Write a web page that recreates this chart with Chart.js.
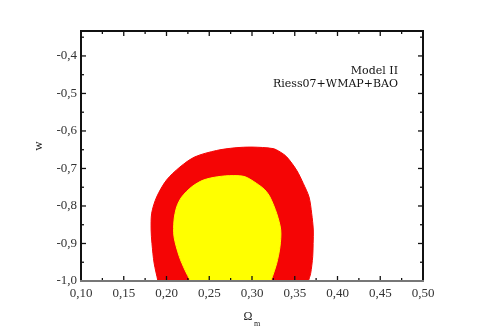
<!DOCTYPE html>
<html>
<head>
<meta charset="utf-8">
<script src="https://cdn.jsdelivr.net/npm/chart.js@4.4.0/dist/chart.umd.min.js"></script>
<style>
  html, body { margin: 0; padding: 0; background: #fff; }
</style>
</head>
<body>
<canvas id="contourChart" width="491" height="333"></canvas>
<script>
(function(){
    "use strict";

    // tick labels
    var xTicks = [0.10, 0.15, 0.20, 0.25, 0.30, 0.35, 0.40, 0.45, 0.50];
    var yTicks = [-1.0, -0.9, -0.8, -0.7, -0.6, -0.5, -0.4];

    // 2 sigma contour (outer, red)
    var outerOm = [0.190, 0.1855, 0.183, 0.182, 0.1827, 0.1885, 0.200, 0.2158, 0.2333, 0.2587, 0.280, 0.300, 0.3246, 0.333, 0.3406, 0.3523, 0.360, 0.3667, 0.3698, 0.3717, 0.3715, 0.371, 0.3686, 0.3659];
    var outerW  = [-1.0, -0.952, -0.90, -0.864, -0.819, -0.776, -0.731, -0.696, -0.669, -0.652, -0.645, -0.643, -0.647, -0.656, -0.669, -0.705, -0.740, -0.776, -0.820, -0.864, -0.90, -0.935, -0.980, -1.0];

    // 1 sigma contour (inner, yellow)
    var innerOm = [0.228, 0.2216, 0.215, 0.2088, 0.2088, 0.212, 0.2178, 0.2295, 0.243, 0.260, 0.278, 0.2918, 0.3055, 0.315, 0.321, 0.3289, 0.3336, 0.3327, 0.3289, 0.3238, 0.3219];
    var innerW  = [-1.0, -0.971, -0.935, -0.882, -0.838, -0.802, -0.776, -0.749, -0.731, -0.722, -0.719, -0.722, -0.740, -0.757, -0.776, -0.820, -0.864, -0.909, -0.953, -0.989, -1.0];

    function pts(xs, ys) {
        return xs.map(function(x, i){ return { x: x, y: ys[i] }; });
    }
    function comma(v, d) {
        return v.toFixed(d).replace('.', ',');
    }

    var serif = '"Liberation Serif", "DejaVu Serif", serif';
    var wide = '"DejaVu Serif", serif';

    var frame = {
        id: 'frame',
        afterDraw: function(chart) {
            var ctx = chart.ctx, a = chart.chartArea;
            var xs = chart.scales.x, ys = chart.scales.y;
            function seg(x1, y1, x2, y2) {
                ctx.beginPath(); ctx.moveTo(x1, y1); ctx.lineTo(x2, y2); ctx.stroke();
            }
            ctx.save();
            ctx.strokeStyle = '#111';
            ctx.lineWidth = 1.3;
            xTicks.forEach(function(v, i){
                var p = xs.getPixelForValue(v);
                seg(p, a.bottom, p, a.bottom - 5);
                seg(p, a.top, p, a.top + 5);
                if (i < xTicks.length - 1) {
                    var m = xs.getPixelForValue((v + xTicks[i + 1]) / 2);
                    seg(m, a.bottom, m, a.bottom - 3);
                    seg(m, a.top, m, a.top + 3);
                }
            });
            yTicks.forEach(function(v){
                var p = ys.getPixelForValue(v);
                seg(a.left, p, a.left + 5, p);
                seg(a.right, p, a.right - 5, p);
                var m = ys.getPixelForValue(v + 0.05);
                if (m > a.top + 2) {
                    seg(a.left, m, a.left + 3, m);
                    seg(a.right, m, a.right - 3, m);
                }
            });
            // frame
            ctx.lineWidth = 2;
            ctx.strokeStyle = '#111';
            seg(a.left, a.top, a.right + 1, a.top);
            seg(a.left, a.top - 1, a.left, a.bottom);
            seg(a.right, a.top - 1, a.right, a.bottom);
            ctx.strokeStyle = '#777';
            seg(a.left - 1, a.bottom, a.right + 1, a.bottom);

            // axis titles
            ctx.fillStyle = '#222';
            ctx.font = '13px ' + serif;
            ctx.textAlign = 'center';
            ctx.textBaseline = 'middle';
            ctx.save();
            ctx.translate(39, 146);
            ctx.rotate(-Math.PI / 2);
            ctx.fillText('w', 0, 0);
            ctx.restore();
            ctx.font = '12px ' + serif;
            ctx.fillText('\u03A9', 248, 317);
            ctx.font = '8px ' + serif;
            ctx.fillText('m', 257, 324);

            // annotation
            ctx.fillStyle = '#111';
            ctx.font = '11px ' + wide;
            ctx.textAlign = 'right';
            ctx.textBaseline = 'alphabetic';
            ctx.fillText('Model II', 398, 74);
            ctx.fillText('Riess07+WMAP+BAO', 398, 87);
            ctx.restore();
        }
    };

    var chartArea = document.querySelector('#contourChart');
    new Chart(chartArea, {
        type: 'scatter',
        data: {
            datasets: [
                {
                    label: '1 sigma',
                    data: pts(innerOm, innerW),
                    showLine: true,
                    fill: 'shape',
                    backgroundColor: '#ffff00',
                    borderColor: '#ffff00',
                    borderWidth: 1,
                    pointRadius: 0,
                    tension: 0.3
                },
                {
                    label: '2 sigma',
                    data: pts(outerOm, outerW),
                    showLine: true,
                    fill: 'shape',
                    backgroundColor: '#f50505',
                    borderColor: '#f50505',
                    borderWidth: 1,
                    pointRadius: 0,
                    tension: 0.3
                }
            ]
        },
        options: {
            responsive: false,
            animation: false,
            layout: { padding: { top: 31, right: 68, left: 0, bottom: 0 } },
            plugins: {
                legend: { display: false },
                tooltip: { enabled: false }
            },
            scales: {
                x: {
                    type: 'linear',
                    min: 0.10,
                    max: 0.50,
                    grid: { display: false, drawTicks: false },
                    border: { display: false },
                    afterBuildTicks: function(s){ s.ticks = xTicks.map(function(v){ return { value: v }; }); },
                    afterFit: function(s){ s.height = 52; },
                    ticks: {
                        padding: 5,
                        color: '#333',
                        maxRotation: 0,
                        font: { family: serif, size: 13 },
                        callback: function(v){ return comma(v, 2); }
                    }
                },
                y: {
                    type: 'linear',
                    min: -1.0,
                    max: -0.3335,
                    grid: { display: false, drawTicks: false },
                    border: { display: false },
                    afterBuildTicks: function(s){ s.ticks = yTicks.map(function(v){ return { value: v }; }); },
                    afterFit: function(s){ s.width = 81; },
                    ticks: {
                        padding: 4,
                        color: '#333',
                        font: { family: serif, size: 13 },
                        callback: function(v){ return comma(v, 1); }
                    }
                }
            }
        },
        plugins: [frame]
    });
})();
</script>
</body>
</html>
